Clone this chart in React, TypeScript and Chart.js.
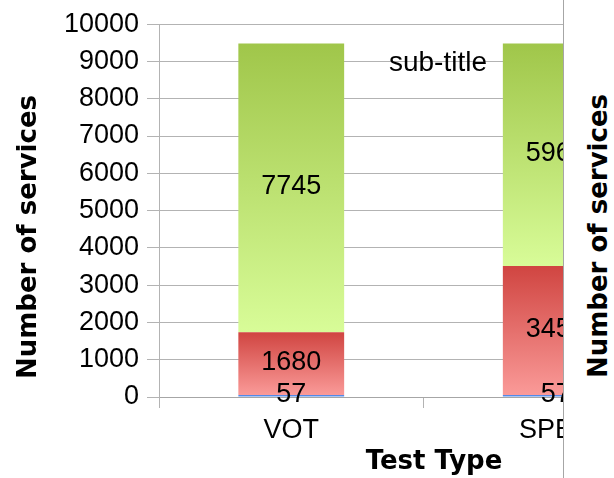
import React, { useEffect, useRef } from "react";
import { Chart, registerables } from "chart.js";

Chart.register(...registerables);

// ---- data ----
const categories = ["VOT", "SPEC"];
const seriesNames = ["Series A", "Series B", "Series C"];
const seriesBlue = [57, 57];
const seriesRed = [1680, 3458];
const seriesGreen = [7745, 5967];
const yMin = 0;
const yMax = 10000;
const yStep = 1000;
const subtitleText = "sub-title";
const xTitleText = "Test Type";
const yTitleText = "Number of services";

// ---- styles ----
const CHART_W = 872;
const CHART_H = 478;
const TICK_FONT = "'Liberation Sans', Arial, sans-serif";
const TITLE_FONT = "'DejaVu Sans', sans-serif";
const GRID = "#b3b3b3";

const gradients = [
  { top: "#5088e8", bottom: "#5a90ea" },
  { top: "#d04541", bottom: "#fa9a98" },
  { top: "#a0c64a", bottom: "#d8fc98" },
];

function makeFill(di: number) {
  return (ctx: any) => {
    const chart = ctx.chart;
    if (ctx.type !== "data" || !chart.chartArea || !chart.scales.y) return gradients[di].top;
    const ds = chart.data.datasets;
    const i = ctx.dataIndex;
    let start = 0;
    for (let k = 0; k < di; k++) start += ds[k].data[i] as number;
    const end = start + (ds[di].data[i] as number);
    const y = chart.scales.y;
    const y0 = y.getPixelForValue(end);
    const y1 = y.getPixelForValue(start);
    if (!isFinite(y0) || !isFinite(y1) || y0 === y1) return gradients[di].top;
    const g = chart.ctx.createLinearGradient(0, y0, 0, y1);
    g.addColorStop(0, gradients[di].top);
    g.addColorStop(1, gradients[di].bottom);
    return g;
  };
}

const decorPlugin = {
  id: "decor",
  afterDatasetsDraw(chart: any) {
    const ctx = chart.ctx;
    ctx.save();
    ctx.fillStyle = "#000";
    ctx.font = `27px ${TICK_FONT}`;
    ctx.textAlign = "center";
    ctx.textBaseline = "middle";
    chart.data.datasets.forEach((ds: any, di: number) => {
      const meta = chart.getDatasetMeta(di);
      meta.data.forEach((el: any, i: number) => {
        const p = el.getProps(["x", "y", "base"], true);
        ctx.fillText(String(ds.data[i]), p.x, (p.y + p.base) / 2 - 1);
      });
    });
    ctx.restore();
  },
  afterDraw(chart: any) {
    const ctx = chart.ctx;
    const cx = chart.width / 2;
    ctx.save();
    ctx.fillStyle = "#000";
    // subtitle
    ctx.font = `28px ${TICK_FONT}`;
    ctx.textAlign = "center";
    ctx.textBaseline = "alphabetic";
    ctx.fillText(subtitleText, cx + 2, 70.5);
    // x title
    ctx.font = `bold 26px ${TITLE_FONT}`;
    ctx.fillText(xTitleText, cx - 2, 469);
    // y title
    ctx.translate(35.5, chart.height / 2 - 2);
    ctx.rotate(-Math.PI / 2);
    ctx.fillText(yTitleText, 0, 0);
    ctx.restore();
  },
};

export default function App() {
  const ref = useRef<HTMLCanvasElement | null>(null);

  useEffect(() => {
    if (!ref.current) return;
    const series = [seriesBlue, seriesRed, seriesGreen];
    const chart = new Chart(ref.current, {
      type: "bar",
      data: {
        labels: categories,
        datasets: series.map((d, di) => ({
          label: seriesNames[di],
          data: d,
          backgroundColor: makeFill(di),
          borderWidth: 0,
          barPercentage: 0.4,
          categoryPercentage: 1,
        })),
      },
      options: {
        animation: false,
        responsive: false,
        devicePixelRatio: 1,
        layout: { padding: { left: 0, right: 184, top: 22, bottom: 0 } },
        plugins: {
          legend: { display: false },
          title: { display: false },
          tooltip: { enabled: false },
        },
        scales: {
          x: {
            stacked: true,
            afterFit: (s: any) => {
              s.height = 81;
            },
            grid: {
              offset: true,
              drawOnChartArea: false,
              drawTicks: true,
              tickLength: 11,
              color: GRID,
              tickColor: GRID,
            },
            border: { display: true, color: "#a6a6a6", width: 1 },
            ticks: {
              color: "#000",
              font: { family: TICK_FONT, size: 27 },
              padding: 6,
              maxRotation: 0,
              autoSkip: false,
            },
          },
          y: {
            stacked: true,
            min: yMin,
            max: yMax,
            afterFit: (s: any) => {
              s.width = 159;
            },
            grid: {
              color: GRID,
              tickColor: GRID,
              tickLength: 12,
              lineWidth: 1,
            },
            border: { display: true, color: GRID, width: 1 },
            ticks: {
              stepSize: yStep,
              color: "#000",
              font: { family: TICK_FONT, size: 27 },
              padding: 8,
              callback: (v: any) => String(v),
            },
          },
        },
      },
      plugins: [decorPlugin],
    });
    return () => chart.destroy();
  }, []);

  return (
    <div
      style={{
        position: "absolute",
        left: 0,
        top: 0,
        width: 614,
        height: 478,
        overflow: "hidden",
        background: "#fff",
      }}
    >
      <div style={{ position: "absolute", left: 0, top: 0, width: CHART_W, height: CHART_H }}>
        <canvas
          ref={ref}
          width={CHART_W}
          height={CHART_H}
          style={{ display: "block", width: CHART_W, height: CHART_H }}
        />
      </div>
      <div
        style={{
          position: "absolute",
          left: 563,
          top: 0,
          width: 51,
          height: 478,
          background: "#fff",
          borderLeft: "1px solid #a6a6a6",
          boxSizing: "border-box",
        }}
      >
        <span
          style={{
            position: "absolute",
            left: 21,
            top: 378,
            transform: "rotate(-90deg)",
            transformOrigin: "0 0",
            whiteSpace: "nowrap",
            font: `bold 26px ${TITLE_FONT}`,
            lineHeight: "26px",
            color: "#000",
          }}
        >
          {yTitleText}
        </span>
      </div>
    </div>
  );
}
